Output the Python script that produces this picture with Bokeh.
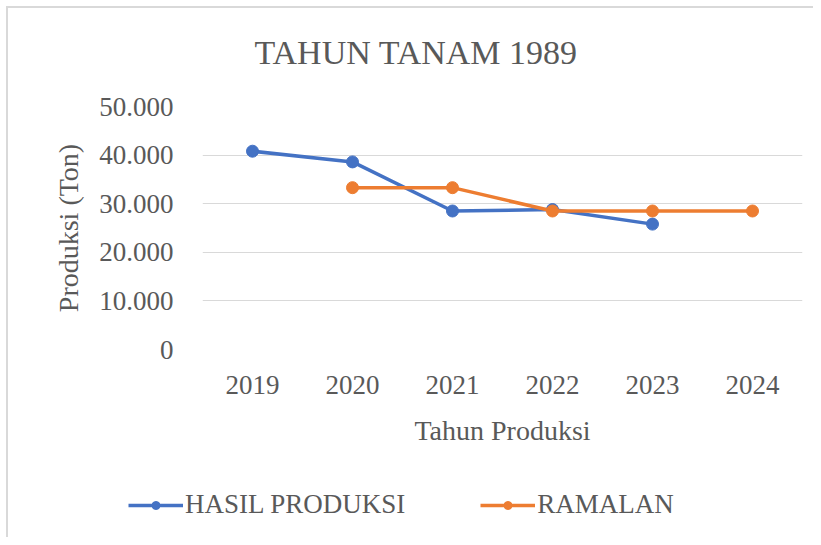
from bokeh.plotting import figure
from bokeh.models import Legend, LegendItem, FactorRange, Title
from bokeh.layouts import column
from bokeh.embed import file_html
from bokeh.resources import INLINE

years = ["2019", "2020", "2021", "2022", "2023", "2024"]
hasil_years = ["2019", "2020", "2021", "2022", "2023"]
hasil = [40800, 38600, 28500, 28800, 25800]
ramalan_years = ["2020", "2021", "2022", "2023", "2024"]
ramalan = [33300, 33300, 28500, 28500, 28500]
y_ticks = [0, 10000, 20000, 30000, 40000, 50000]
y_tick_labels = ["0", "10.000", "20.000", "30.000", "40.000", "50.000"]
series_names = ["HASIL PRODUKSI", "RAMALAN"]

FONT = "Liberation Serif"
GRAY = "#595959"
BLUE = "#4472C4"
ORANGE = "#ED7D31"

p = figure(frame_width=600, frame_height=243, x_range=FactorRange(*years), y_range=(0, 50000),
           output_backend="svg", toolbar_location=None, title=None,
           min_border_left=194, min_border_right=11, min_border_top=98, min_border_bottom=121)
p.outline_line_color = None
p.background_fill_color = "white"
p.border_fill_color = "white"

spacer = Title(text=" ", text_font=FONT, text_font_size="29px", standoff=0)
p.add_layout(spacer, "above")
title = Title(text="TAHUN TANAM 1989", text_font=FONT, text_font_size="34px",
              text_color=GRAY, text_font_style="normal", align="left", offset=52,
              standoff=0, vertical_align="top")
p.add_layout(title, "above")

p.xgrid.grid_line_color = None
p.ygrid.grid_line_color = "#d9d9d9"
p.ygrid.grid_line_width = 1

p.yaxis.ticker = y_ticks
p.yaxis.major_label_overrides = {t: l for t, l in zip(y_ticks, y_tick_labels)}
for ax in (p.xaxis, p.yaxis):
    ax.axis_line_color = None
    ax.major_tick_line_color = None
    ax.minor_tick_line_color = None
    ax.major_label_text_font = FONT
    ax.major_label_text_font_size = "27px"
    ax.major_label_text_color = GRAY
    ax.axis_label_text_font = FONT
    ax.axis_label_text_font_size = "28px"
    ax.axis_label_text_color = GRAY
    ax.axis_label_text_font_style = "normal"
p.yaxis.major_label_standoff = 23
p.xaxis.major_label_standoff = 20
p.yaxis.axis_label = "Produksi (Ton)"
p.xaxis.axis_label = "Tahun Produksi"
p.yaxis.axis_label_standoff = 12
p.xaxis.axis_label_standoff = 18

p.line(hasil_years, hasil, line_color=BLUE, line_width=3.5)
p.scatter(hasil_years, hasil, size=12, fill_color=BLUE, line_color=BLUE)
p.line(ramalan_years, ramalan, line_color=ORANGE, line_width=3.5)
p.scatter(ramalan_years, ramalan, size=12, fill_color=ORANGE, line_color=ORANGE)

# legend strip below the chart (its stand-in renderers lie outside its visible range)
p2 = figure(width=805, height=67, x_range=(0, 805), y_range=(0, 67),
            x_axis_type=None, y_axis_type=None, title=None,
            output_backend="svg", toolbar_location=None,
            min_border=0, min_border_left=0, min_border_right=0,
            min_border_top=0, min_border_bottom=0)
p2.grid.visible = False
p2.outline_line_color = None
p2.border_fill_color = "white"
p2.background_fill_color = "white"
loc_x = 120
try:
    p2.frame_align = False
except Exception:
    loc_x = 0

items = []
for name, vals, col in zip(series_names, [hasil, ramalan], [BLUE, ORANGE]):
    lr = p2.line(x=vals, y=vals, line_color=col, line_width=3.5)
    sr = p2.scatter(x=vals, y=vals, size=12, fill_color=col, line_color=col)
    items.append(LegendItem(label=name, renderers=[lr, sr]))
legend = Legend(items=items, orientation="horizontal", location=(loc_x, 17),
                label_text_font=FONT, label_text_font_size="27px", label_text_color=GRAY,
                glyph_width=55, glyph_height=20, label_standoff=2, spacing=75,
                border_line_color=None, background_fill_alpha=0, padding=0, margin=0)
p2.add_layout(legend, "center")

layout = column(p, p2, spacing=0)
layout.styles = {"border-left": "2px solid #d9d9d9", "border-top": "2px solid #d9d9d9",
                 "margin-left": "6px", "margin-top": "6px"}

open("out.html", "w").write(file_html(layout, INLINE))
